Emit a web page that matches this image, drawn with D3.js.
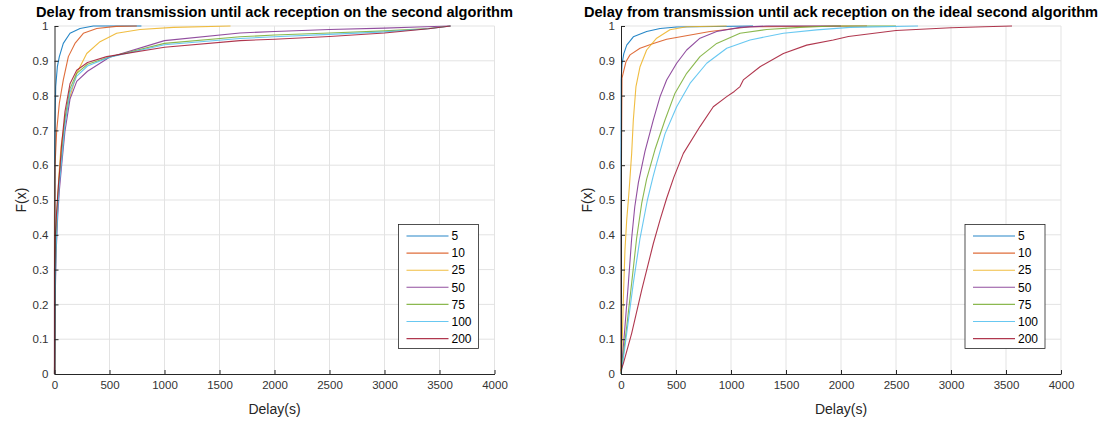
<!DOCTYPE html>
<html>
<head>
<meta charset="utf-8">
<script src="https://cdn.jsdelivr.net/npm/d3@7"></script>
<style>
  body { margin: 0; background: #fff; }
  text { font-family: "Liberation Sans", Arial, Helvetica, sans-serif; }
</style>
</head>
<body>
<svg id="fig" width="1116" height="423"></svg>
<script>
// Series labels and colours (number of nodes)
const seriesNames = ["5", "10", "25", "50", "75", "100", "200"];
const seriesColors = ["#0072BD", "#D95319", "#EDB120", "#7E2F8E", "#77AC30", "#4DBEEE", "#A2142F"];

const xTicks = [0, 500, 1000, 1500, 2000, 2500, 3000, 3500, 4000];
const yTicks = [0, 0.1, 0.2, 0.3, 0.4, 0.5, 0.6, 0.7, 0.8, 0.9, 1];

const titles = [
  "Delay from transmission until ack reception on the second algorithm",
  "Delay from transmission until ack reception on the ideal second algorithm"
];

// ---- Second algorithm: empirical CDF points (delay in s, F(x)) ----
const second5X   = [0, 0, 2, 5, 11, 26, 44, 80, 141, 232, 353, 790];
const second5Y   = [0, 0.55, 0.65, 0.73, 0.826, 0.883, 0.912, 0.95, 0.979, 0.993, 1.0, 1.0];
const second10X  = [0, 0, 5, 20, 44, 80, 126, 186, 262, 384, 560, 748];
const second10Y  = [0, 0.45, 0.6, 0.70, 0.778, 0.845, 0.912, 0.95, 0.979, 0.993, 0.999, 1.0];
const second25X  = [0, 2, 10, 25, 40, 59, 95, 141, 202, 293, 414, 565, 777, 1080, 1600];
const second25Y  = [0, 0.2, 0.35, 0.48, 0.57, 0.653, 0.73, 0.797, 0.864, 0.921, 0.955, 0.979, 0.99, 0.996, 1.0];
const second50X  = [0, 5, 15, 30, 45, 65, 95, 141, 202, 300, 500, 1000, 1686, 2000, 2500, 3000, 3300, 3600];
const second50Y  = [0, 0.2, 0.35, 0.46, 0.53, 0.6, 0.698, 0.79, 0.841, 0.87, 0.91, 0.958, 0.980, 0.984, 0.99, 0.994, 0.997, 1.0];
const second75X  = [0, 3, 12, 25, 40, 65, 95, 141, 202, 300, 500, 1000, 1686, 2000, 2500, 3000, 3400, 3600];
const second75Y  = [0, 0.2, 0.36, 0.47, 0.55, 0.63, 0.735, 0.82, 0.864, 0.89, 0.911, 0.95, 0.969, 0.974, 0.98, 0.986, 0.993, 1.0];
const second100X = [0, 4, 13, 28, 42, 65, 95, 141, 202, 300, 500, 1000, 1686, 2000, 2500, 3000, 3400, 3600];
const second100Y = [0, 0.2, 0.35, 0.46, 0.54, 0.612, 0.716, 0.81, 0.856, 0.885, 0.91, 0.946, 0.964, 0.969, 0.976, 0.983, 0.992, 1.0];
const second200X = [0, 0, 8, 20, 35, 50, 65, 95, 141, 202, 300, 474, 1000, 1686, 2000, 2500, 3000, 3400, 3600];
const second200Y = [0, 0.3, 0.4, 0.47, 0.54, 0.596, 0.66, 0.754, 0.834, 0.873, 0.895, 0.912, 0.939, 0.958, 0.962, 0.970, 0.980, 0.992, 1.0];

// ---- Ideal second algorithm ----
const ideal5X   = [0, 0, 2, 9, 25, 52, 112, 233, 355, 506, 1200];
const ideal5Y   = [0, 0.63, 0.845, 0.89, 0.92, 0.945, 0.969, 0.984, 0.993, 0.997, 1.0];
const ideal10X  = [0, 2, 9, 27, 45, 82, 173, 294, 415, 809, 1173, 2236];
const ideal10Y  = [0, 0.5, 0.85, 0.874, 0.897, 0.917, 0.936, 0.950, 0.962, 0.984, 0.998, 1.0];
const ideal25X  = [0, 9, 21, 36, 52, 67, 76, 97, 112, 136, 173, 233, 324, 445, 597, 960];
const ideal25Y  = [0, 0.069, 0.213, 0.356, 0.443, 0.5, 0.538, 0.634, 0.730, 0.826, 0.883, 0.931, 0.965, 0.989, 0.998, 1.0];
const ideal50X  = [0, 6, 36, 67, 97, 125, 158, 218, 294, 355, 415, 506, 597, 718, 870, 1082, 1324, 2000];
const ideal50Y  = [0, 0.021, 0.136, 0.261, 0.39, 0.48, 0.55, 0.64, 0.73, 0.797, 0.845, 0.893, 0.931, 0.965, 0.984, 0.996, 1.0, 1.0];
const ideal75X  = [0, 15, 52, 97, 142, 188, 233, 309, 400, 491, 597, 718, 870, 1082, 1324, 1627, 1930, 2500];
const ideal75Y  = [0, 0.04, 0.136, 0.261, 0.39, 0.49, 0.56, 0.645, 0.73, 0.807, 0.864, 0.912, 0.95, 0.979, 0.99, 0.996, 1.0, 1.0];
const ideal100X = [0, 15, 52, 112, 173, 240, 290, 324, 400, 506, 627, 779, 961, 1173, 1476, 1779, 2082, 2700];
const ideal100Y = [0, 0.03, 0.117, 0.261, 0.39, 0.5, 0.565, 0.605, 0.69, 0.768, 0.835, 0.893, 0.936, 0.96, 0.979, 0.989, 0.996, 1.0];
const ideal200X = [0, 21, 97, 188, 294, 355, 415, 480, 567, 718, 839, 961, 1030, 1082, 1112, 1264, 1476, 1688, 1930, 2067, 2500, 3000, 3300, 3555];
const ideal200Y = [0.01, 0.03, 0.117, 0.241, 0.375, 0.443, 0.505, 0.565, 0.634, 0.711, 0.768, 0.797, 0.812, 0.826, 0.845, 0.883, 0.921, 0.945, 0.96, 0.97, 0.987, 0.995, 0.998, 1.0];

const secondSeries = [
  [second5X, second5Y], [second10X, second10Y], [second25X, second25Y],
  [second50X, second50Y], [second75X, second75Y], [second100X, second100Y],
  [second200X, second200Y]
];
const idealSeries = [
  [ideal5X, ideal5Y], [ideal10X, ideal10Y], [ideal25X, ideal25Y],
  [ideal50X, ideal50Y], [ideal75X, ideal75Y], [ideal100X, ideal100Y],
  [ideal200X, ideal200Y]
];

const svg = d3.select("#fig");
const axisColor = "#262626";
const gridColor = "#e3e3e3";

function drawPanel(left, right, title, series) {
  const top = 26, bottom = 374;
  const x = d3.scaleLinear().domain([0, 4000]).range([left, right]);
  const y = d3.scaleLinear().domain([0, 1]).range([bottom, top]);
  const g = svg.append("g");

  // grid
  g.append("g").selectAll("line").data(xTicks.slice(1)).join("line")
    .attr("x1", d => x(d)).attr("x2", d => x(d))
    .attr("y1", top).attr("y2", bottom)
    .attr("stroke", gridColor).attr("stroke-width", 1);
  g.append("g").selectAll("line").data(yTicks.slice(1)).join("line")
    .attr("x1", left).attr("x2", right)
    .attr("y1", d => y(d)).attr("y2", d => y(d))
    .attr("stroke", gridColor).attr("stroke-width", 1);

  // curves
  const line = d3.line().x(d => x(d[0])).y(d => y(d[1]));
  series.forEach(([xs, ys], i) => {
    const pts = xs.map((v, k) => [v, ys[k]]);
    g.append("path").datum(pts)
      .attr("d", line)
      .attr("fill", "none")
      .attr("stroke", seriesColors[i])
      .attr("stroke-opacity", 0.85)
      .attr("stroke-width", 1.1)
      .attr("stroke-linejoin", "round");
  });

  // axes with inward ticks
  const xAxis = d3.axisBottom(x).tickValues(xTicks).tickSizeInner(-4).tickSizeOuter(0).tickPadding(7)
    .tickFormat(d3.format("d"));
  const gx = g.append("g").attr("transform", `translate(0,${bottom})`).call(xAxis);
  const yAxis = d3.axisLeft(y).tickValues(yTicks).tickSizeInner(-4).tickSizeOuter(0).tickPadding(6)
    .tickFormat(d => d === 0 || d === 1 ? d3.format("d")(d) : d3.format(".1f")(d));
  const gy = g.append("g").attr("transform", `translate(${left},0)`).call(yAxis);
  [gx, gy].forEach(a => {
    a.select(".domain").attr("stroke", axisColor).attr("stroke-width", 1);
    a.selectAll(".tick line").attr("stroke", axisColor);
    a.selectAll(".tick text").attr("fill", "#333").style("font-size", "11.5px")
      .style("font-family", '"Liberation Sans", Arial, sans-serif');
  });

  // title and axis labels
  g.append("text").attr("x", (left + right) / 2).attr("y", 17)
    .attr("text-anchor", "middle").attr("font-weight", "bold")
    .attr("font-size", "14.6px").attr("fill", "#000").text(title);
  g.append("text").attr("x", (left + right) / 2).attr("y", 414)
    .attr("text-anchor", "middle").attr("font-size", "14px").attr("fill", "#262626")
    .text("Delay(s)");
  g.append("text")
    .attr("transform", `translate(${left - 29},${(top + bottom) / 2}) rotate(-90)`)
    .attr("text-anchor", "middle").attr("font-size", "14px").attr("fill", "#262626")
    .text("F(x)");

  // legend
  const lw = 80, lh = 124;
  const lx = right - 16 - lw, ly = 224.5;
  const leg = g.append("g").attr("transform", `translate(${lx},${ly})`);
  leg.append("rect").attr("width", lw).attr("height", lh)
    .attr("fill", "#fff").attr("stroke", axisColor).attr("stroke-width", 0.8);
  seriesNames.forEach((name, i) => {
    const cy = 11.5 + i * 17.1;
    leg.append("line").attr("x1", 8).attr("x2", 50).attr("y1", cy).attr("y2", cy)
      .attr("stroke", seriesColors[i]).attr("stroke-width", 1.1).attr("stroke-opacity", 0.85);
    leg.append("text").attr("x", 53).attr("y", cy + 4.2)
      .attr("font-size", "12px").attr("fill", "#000").text(name);
  });
}

drawPanel(54.5, 494.5, titles[0], secondSeries);
drawPanel(621, 1061, titles[1], idealSeries);
</script>
</body>
</html>
